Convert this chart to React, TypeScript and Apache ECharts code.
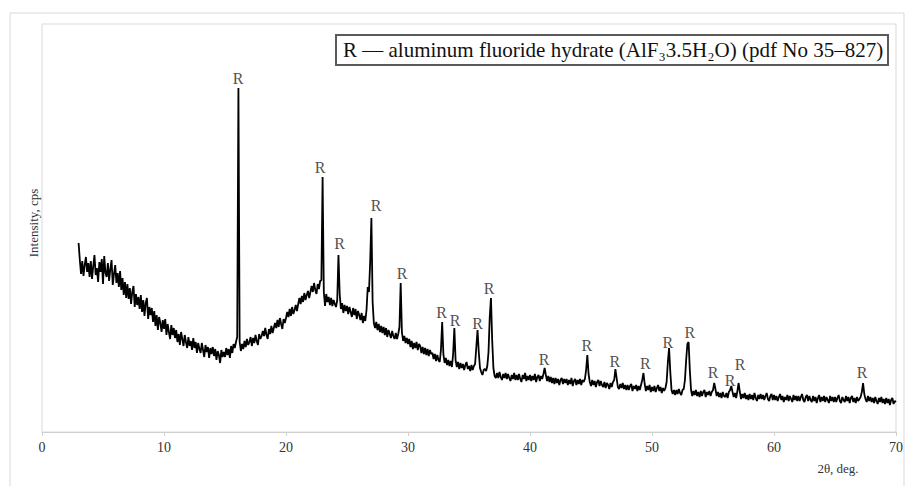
import React, { useEffect, useRef } from "react";
import * as echarts from "echarts";

const twoThetaStart = 3.0;
const twoThetaStep = 0.1;
const intensity: number[] = [
  // 3.x
  189, 172, 158, 171, 156, 167, 175, 160, 169, 155,
  // 4.x
  171, 153, 166, 177, 157, 164, 150, 170, 160, 173,
  // 5.x
  148, 176, 159, 155, 169, 151, 163, 172, 147, 158,
  // 6.x
  167, 149, 159, 145, 161, 142, 154, 137, 150, 134,
  // 7.x
  148, 133, 144, 128, 140, 146, 125, 138, 127, 135,
  // 8.x
  123, 137, 120, 132, 116, 129, 134, 113, 125, 117,
  // 9.x
  124, 110, 121, 106, 117, 102, 115, 109, 100, 112,
  // 10.x
  103, 113, 97, 108, 100, 93, 107, 97, 104, 94,
  // 11.x
  102, 90, 98, 87, 100, 93, 86, 97, 90, 84,
  // 12.x
  95, 86, 91, 82, 94, 84, 90, 79, 89, 83,
  // 13.x
  79, 89, 82, 75, 87, 80, 85, 74, 84, 78,
  // 14.x
  85, 76, 83, 72, 81, 77, 69, 82, 75, 80,
  // 15.x
  75, 84, 77, 83, 74, 86, 79, 88, 84, 90,
  // 16.x
  95, 344, 90, 81, 88, 83, 91, 85, 93, 87,
  // 17.x
  90, 95, 86, 94, 89, 97, 91, 87, 98, 93,
  // 18.x
  96, 101, 96, 104, 97, 93, 103, 98, 106, 99,
  // 19.x
  104, 109, 104, 112, 105, 114, 108, 103, 113, 109,
  // 20.x
  114, 120, 115, 123, 116, 125, 118, 122, 127, 121,
  // 21.x
  128, 134, 128, 136, 130, 139, 132, 137, 141, 134,
  // 22.x
  140, 146, 140, 149, 142, 138, 148, 143, 151, 152,
  // 23.x
  255, 140, 126, 138, 130, 135, 127, 134, 126, 132,
  // 24.x
  128, 125, 132, 177, 138, 123, 129, 119, 127, 121,
  // 25.x
  126, 118, 125, 120, 115, 124, 117, 123, 113, 121,
  // 26.x
  117, 112, 119, 109, 116, 111, 122, 145, 140, 170,
  // 27.x
  214, 130, 109, 104, 110, 102, 108, 100, 106, 99,
  // 28.x
  105, 97, 104, 95, 102, 98, 94, 101, 96, 93,
  // 29.x
  99, 93, 98, 105, 149, 100, 91, 96, 89, 94,
  // 30.x
  88, 93, 85, 91, 83, 89, 84, 90, 82, 88,
  // 31.x
  86, 79, 85, 78, 84, 77, 83, 76, 82, 78,
  // 32.x
  79, 73, 78, 71, 77, 72, 70, 82, 110, 78,
  // 33.x
  69, 74, 67, 72, 66, 71, 65, 78, 104, 72,
  // 34.x
  65, 70, 63, 69, 64, 68, 62, 67, 70, 63,
  // 35.x
  66, 61, 67, 62, 66, 68, 85, 102, 80, 64,
  // 36.x
  60, 57, 62, 63, 61, 66, 80, 115, 134, 92,
  // 37.x
  64, 56, 54, 59, 54, 60, 55, 52, 58, 54,
  // 38.x
  59, 53, 58, 54, 51, 57, 53, 59, 52, 57,
  // 39.x
  52, 58, 53, 50, 57, 53, 59, 51, 56, 52,
  // 40.x
  57, 51, 56, 52, 58, 50, 55, 57, 51, 56,
  // 41.x
  53, 58, 64, 57, 51, 56, 50, 55, 49, 54,
  // 42.x
  48, 54, 49, 53, 47, 52, 54, 48, 53, 49,
  // 43.x
  53, 47, 52, 48, 54, 46, 51, 53, 47, 52,
  // 44.x
  48, 53, 47, 52, 50, 53, 62, 77, 58, 50,
  // 45.x
  46, 52, 47, 51, 45, 50, 52, 46, 51, 47,
  // 46.x
  45, 50, 44, 49, 47, 43, 49, 45, 50, 52,
  // 47.x
  63, 54, 45, 43, 48, 44, 49, 43, 47, 42,
  // 48.x
  47, 42, 46, 48, 41, 46, 43, 47, 41, 46,
  // 49.x
  42, 47, 52, 59, 48, 41, 46, 42, 47, 40,
  // 50.x
  45, 41, 46, 40, 44, 47, 41, 45, 39, 44,
  // 51.x
  41, 44, 50, 70, 84, 60, 42, 38, 42, 37,
  // 52.x
  42, 38, 43, 39, 37, 42, 43, 52, 72, 88,
  // 53.x
  90, 62, 42, 36, 41, 37, 42, 36, 40, 35,
  // 54.x
  41, 36, 40, 42, 35, 40, 37, 41, 36, 40,
  // 55.x
  42, 49, 43, 36, 40, 35, 39, 34, 40, 36,
  // 56.x
  35, 39, 34, 40, 42, 46, 40, 35, 39, 34,
  // 57.x
  41, 49, 40, 33, 38, 34, 39, 33, 37, 32,
  // 58.x
  38, 33, 37, 32, 39, 34, 31, 37, 33, 38,
  // 59.x
  33, 37, 32, 36, 39, 33, 31, 36, 38, 32,
  // 60.x
  37, 32, 36, 31, 35, 38, 32, 36, 30, 35,
  // 61.x
  32, 37, 31, 36, 33, 30, 37, 32, 36, 31,
  // 62.x
  36, 31, 35, 38, 32, 30, 35, 37, 31, 36,
  // 63.x
  32, 30, 36, 31, 35, 29, 34, 37, 30, 35,
  // 64.x
  31, 36, 30, 35, 32, 29, 36, 31, 35, 30,
  // 65.x
  35, 30, 34, 37, 31, 29, 35, 32, 30, 36,
  // 66.x
  31, 35, 29, 34, 36, 30, 34, 29, 35, 31,
  // 67.x
  33, 35, 40, 49, 38, 33, 30, 36, 31, 35,
  // 68.x
  30, 34, 29, 35, 31, 28, 34, 30, 35, 29,
  // 69.x
  33, 28, 34, 29, 33, 27, 32, 34, 28, 31,
  // 70.0
  30,
];

// "R" peak markers (2θ, label height in the same intensity units)
const rLabelAngles = [16.07, 22.79, 24.4, 27.38, 29.51, 32.75, 33.85, 35.7, 36.64, 41.15, 44.65, 46.95, 49.45, 51.3, 53.1, 55.0, 56.39, 57.21, 67.21];
const rLabelHeights = [354, 265, 189, 227, 159, 120, 112, 109, 144, 73, 87, 71, 69, 90, 100, 60, 52, 68, 60];

const xTicks = [0, 10, 20, 30, 40, 50, 60, 70];
const legendText = "R \u2014 aluminum fluoride hydrate (AlF\u20833.5H\u2082O) (pdf No 35\u2013827)";
const yAxisTitle = "Intensity, cps";
const xAxisTitle = "2\u03b8, deg.";

const SERIF = "'Liberation Serif', 'DejaVu Serif', serif";

export default function App() {
  const ref = useRef<HTMLDivElement>(null);

  useEffect(() => {
    if (!ref.current) return;
    const chart = echarts.init(ref.current, undefined, { renderer: "svg" });

    const lineData = intensity.map((v, i) => [
      Math.round((twoThetaStart + i * twoThetaStep) * 10) / 10,
      v,
    ]);
    const rData = rLabelAngles.map((a, i) => [a, rLabelHeights[i]]);

    chart.setOption({
      animation: false,
      backgroundColor: "#ffffff",
      grid: {
        left: 42,
        right: 9,
        top: 24,
        bottom: 54,
        show: true,
        borderColor: "#d9d9d9",
        borderWidth: 1,
      },
      xAxis: {
        type: "value",
        min: xTicks[0],
        max: xTicks[xTicks.length - 1],
        interval: 10,
        axisLine: { show: true, lineStyle: { color: "#d0d0d0", width: 1 } },
        axisTick: { show: true, length: 4, lineStyle: { color: "#d0d0d0" } },
        splitLine: { show: false },
        axisLabel: {
          color: "#333",
          fontFamily: SERIF,
          fontSize: 14,
          margin: 8,
        },
      },
      yAxis: {
        type: "value",
        min: 0,
        max: 408,
        axisLine: { show: false },
        axisTick: { show: false },
        axisLabel: { show: false },
        splitLine: { show: false },
      },
      series: [
        {
          type: "line",
          data: lineData,
          showSymbol: false,
          symbol: "none",
          lineStyle: { color: "#000", width: 1.8 },
          z: 2,
        },
        {
          type: "scatter",
          data: rData,
          symbolSize: 0,
          silent: true,
          label: {
            show: true,
            position: "inside",
            formatter: "R",
            color: "#222",
            fontFamily: SERIF,
            fontSize: 16,
          },
          z: 3,
        },
      ],
      graphic: [
        {
          type: "rect",
          shape: { x: 10, y: 13, width: 894, height: 480 },
          style: { fill: "none", stroke: "#d9d9d9", lineWidth: 1 },
          silent: true,
          z: 0,
        },
        {
          type: "rect",
          shape: { x: 336, y: 35, width: 552, height: 30 },
          style: { fill: "#fff", stroke: "#5a5a5a", lineWidth: 2 },
          z: 10,
        },
        {
          type: "text",
          x: 343,
          y: 50,
          style: {
            text: legendText,
            fill: "#111",
            font: `21px ${SERIF}`,
            verticalAlign: "middle",
            align: "left",
          },
          z: 11,
        },
        {
          type: "text",
          x: 838,
          y: 468,
          style: {
            text: xAxisTitle,
            fill: "#333",
            font: `13px ${SERIF}`,
            verticalAlign: "middle",
            align: "center",
          },
          z: 11,
        },
        {
          type: "text",
          x: 33,
          y: 223,
          rotation: Math.PI / 2,
          style: {
            text: yAxisTitle,
            fill: "#333",
            font: `13px ${SERIF}`,
            verticalAlign: "middle",
            align: "center",
          },
          z: 11,
        },
      ],
    });

    return () => chart.dispose();
  }, []);

  return (
    <div
      ref={ref}
      style={{ position: "fixed", left: 0, top: 0, width: 906, height: 486 }}
    />
  );
}
